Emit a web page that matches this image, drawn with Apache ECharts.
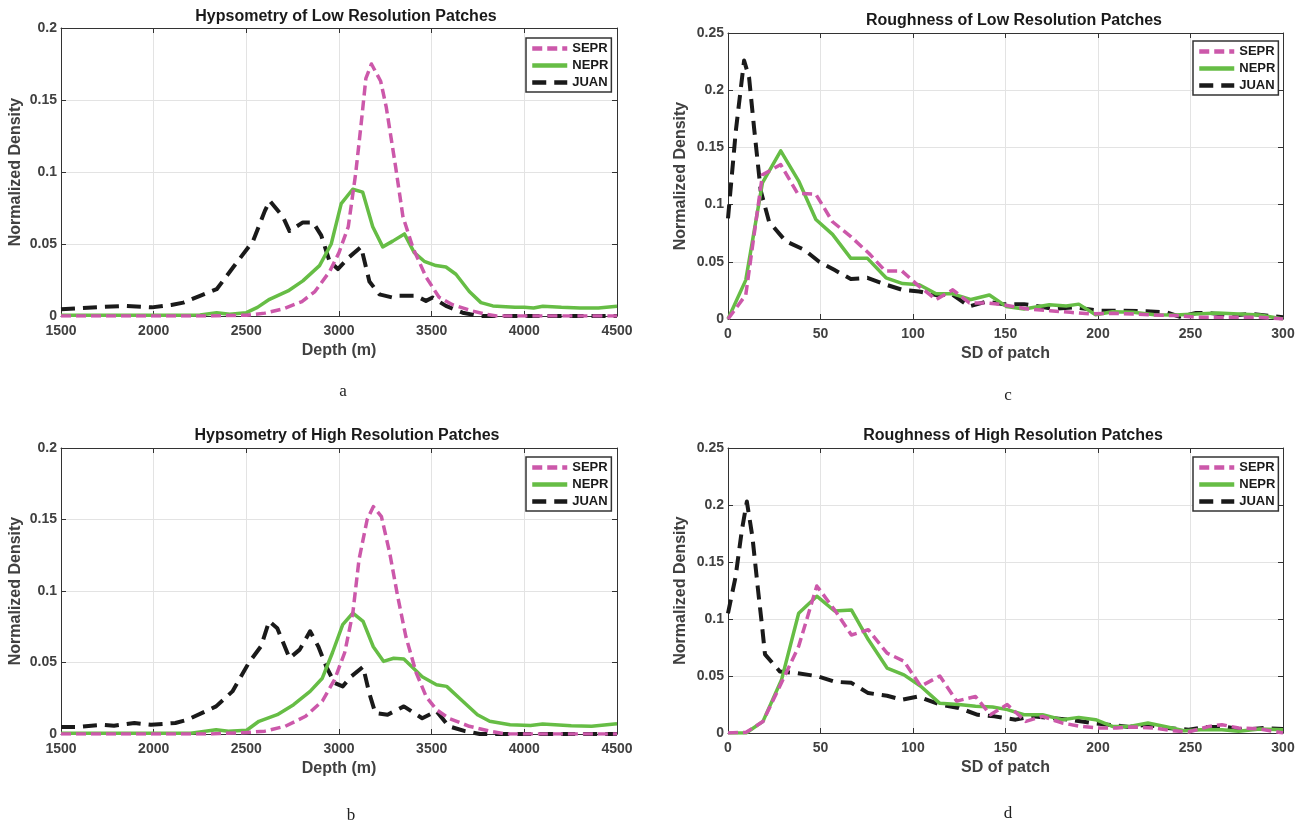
<!DOCTYPE html>
<html>
<head>
<meta charset="utf-8">
<script src="https://cdn.jsdelivr.net/npm/echarts@6/dist/echarts.min.js"></script>
<style>
  html, body { margin: 0; padding: 0; background: #fff; }
  #chart { width: 1309px; height: 828px; }
</style>
</head>
<body>
<div id="chart"></div>
<script>
// [x, density]
const hypLowSEPR = [[1500,0],[1800,0],[2100,0],[2300,0],[2400,0.0003],[2500,0.0005],[2600,0.002],[2700,0.005],[2800,0.010],[2870,0.017],[2950,0.031],[3000,0.044],[3050,0.062],[3090,0.099],[3120,0.134],[3145,0.165],[3175,0.175],[3225,0.163],[3255,0.145],[3305,0.104],[3345,0.069],[3400,0.047],[3470,0.027],[3540,0.013],[3610,0.008],[3720,0.0035],[3800,0.001],[3850,0],[4500,0]];
const hypLowNEPR = [[1500,0.0005],[1800,0.0005],[2100,0.0006],[2250,0.0007],[2340,0.0023],[2410,0.0012],[2500,0.0023],[2560,0.006],[2625,0.0116],[2725,0.0174],[2805,0.0244],[2895,0.035],[2958,0.050],[3012,0.078],[3074,0.088],[3128,0.086],[3182,0.062],[3236,0.048],[3290,0.052],[3353,0.057],[3406,0.044],[3460,0.038],[3523,0.035],[3577,0.034],[3631,0.029],[3703,0.017],[3766,0.0093],[3830,0.007],[3900,0.0065],[3950,0.006],[4000,0.006],[4050,0.0055],[4100,0.0068],[4200,0.006],[4300,0.0055],[4400,0.0055],[4500,0.0068]];
const hypLowJUAN = [[1500,0.0047],[1590,0.0054],[1720,0.0063],[1850,0.007],[1990,0.006],[2095,0.0077],[2160,0.0093],[2250,0.014],[2340,0.0186],[2430,0.034],[2536,0.052],[2600,0.073],[2626,0.080],[2697,0.069],[2733,0.059],[2805,0.065],[2860,0.065],[2904,0.056],[2949,0.038],[2994,0.0326],[3056,0.041],[3119,0.048],[3164,0.024],[3218,0.015],[3290,0.0128],[3326,0.014],[3415,0.014],[3469,0.0105],[3505,0.0128],[3577,0.007],[3667,0.0023],[3756,0],[4500,0]];

const hypHighSEPR = [[1500,0],[2300,0],[2500,0.001],[2600,0.002],[2710,0.0054],[2820,0.0124],[2910,0.023],[2976,0.038],[3031,0.057],[3075,0.085],[3108,0.122],[3152,0.150],[3185,0.159],[3229,0.152],[3273,0.127],[3317,0.096],[3361,0.068],[3416,0.043],[3471,0.026],[3526,0.017],[3592,0.011],[3703,0.0054],[3813,0.002],[3900,0],[4500,0]];
const hypHighNEPR = [[1500,0.0005],[2200,0.0006],[2337,0.003],[2403,0.002],[2502,0.0026],[2568,0.0089],[2667,0.0135],[2755,0.0205],[2844,0.0298],[2910,0.039],[2965,0.057],[3020,0.0765],[3075,0.0846],[3130,0.0788],[3185,0.061],[3240,0.0508],[3295,0.053],[3350,0.0524],[3449,0.040],[3526,0.0345],[3581,0.0333],[3659,0.024],[3747,0.0135],[3813,0.0089],[3923,0.0065],[4033,0.006],[4099,0.007],[4253,0.0058],[4363,0.0054],[4500,0.0072]];
const hypHighJUAN = [[1500,0.0049],[1588,0.0049],[1720,0.0065],[1786,0.0058],[1896,0.0077],[1985,0.0065],[2117,0.0077],[2183,0.010],[2337,0.0193],[2425,0.0298],[2513,0.0497],[2579,0.0613],[2623,0.0788],[2667,0.074],[2733,0.053],[2788,0.059],[2844,0.0718],[2888,0.0613],[2932,0.047],[2976,0.0357],[3020,0.0333],[3064,0.040],[3130,0.047],[3163,0.0287],[3196,0.0147],[3262,0.0135],[3350,0.0193],[3449,0.011],[3526,0.016],[3592,0.0054],[3680,0.002],[3760,0],[4500,0]];

const rghLowSEPR = [[0,0],[9.6,0.021],[18.6,0.126],[28.5,0.135],[37.5,0.110],[47.5,0.109],[56.5,0.085],[66.4,0.072],[76.4,0.057],[85,0.042],[94,0.042],[103,0.029],[112.5,0.017],[121.5,0.0255],[130.5,0.014],[139.5,0.014],[148.5,0.0125],[162,0.0088],[174,0.0073],[185,0.0058],[196,0.0044],[208,0.005],[219,0.0044],[230,0.0035],[242,0.003],[253,0.0015],[265,0.0015],[276,0.0015],[287,0.0015],[300,0]];
const rghLowNEPR = [[0,0],[9.6,0.034],[18.6,0.119],[28.5,0.147],[38.4,0.120],[47.5,0.087],[56.5,0.074],[66.4,0.053],[75.4,0.053],[85.4,0.036],[94.4,0.031],[103.4,0.030],[112.5,0.022],[121.5,0.022],[131.4,0.017],[141.3,0.021],[150.4,0.011],[160,0.0088],[173.7,0.0125],[182.8,0.0114],[189.6,0.013],[198.7,0.0038],[207.8,0.0064],[219,0.0058],[230.6,0.0038],[242,0.0035],[253,0.0044],[264.7,0.0053],[276,0.0044],[287.5,0.0035],[300,0]];
const rghLowJUAN = [[0,0.088],[4.2,0.164],[8.7,0.226],[11.4,0.211],[14.1,0.167],[17.7,0.112],[22.2,0.085],[31.2,0.068],[41.2,0.0605],[49.3,0.050],[57.4,0.043],[66.4,0.035],[75.4,0.036],[85.4,0.030],[94.4,0.0254],[103.4,0.024],[112.5,0.021],[121.5,0.021],[130.5,0.011],[139.5,0.0152],[148.5,0.013],[160,0.013],[176,0.0088],[187,0.0102],[201,0.0073],[212,0.0073],[226,0.0067],[237,0.0058],[244,0.002],[253,0.0053],[260,0.0053],[271.5,0.003],[283,0.0044],[300,0.0015]];

const rghHighSEPR = [[0,0],[9.8,0.0006],[18.9,0.010],[28,0.041],[38.2,0.076],[48,0.129],[57.6,0.108],[66.7,0.086],[75.8,0.0906],[86,0.070],[95.1,0.063],[104.2,0.041],[114.5,0.050],[123.6,0.028],[133.8,0.032],[141.8,0.016],[150.9,0.0249],[161,0.0102],[170,0.0146],[180.5,0.0088],[190.7,0.0058],[200,0.0044],[210,0.0044],[219,0.0053],[230.5,0.0044],[239.7,0.002],[248.8,0.0009],[260,0.0058],[267,0.0073],[276,0.0044],[287.5,0.0035],[300,0]];
const rghHighNEPR = [[0,0],[9.8,0],[18.9,0.0102],[29,0.047],[38.2,0.105],[48,0.120],[57.6,0.107],[66.7,0.108],[75.8,0.082],[86,0.057],[95.1,0.051],[104.2,0.041],[114.5,0.026],[124.7,0.025],[133.8,0.0234],[143,0.0228],[151,0.0205],[160,0.016],[170,0.016],[180.5,0.0117],[189.6,0.0137],[198.7,0.0117],[207.8,0.0058],[217,0.0058],[227,0.0088],[237.4,0.0053],[246.5,0.002],[255.6,0.0029],[267,0.0029],[276,0.0015],[287.5,0.0035],[300,0.0029]];
const rghHighJUAN = [[0,0.105],[4.1,0.137],[7.5,0.178],[10.2,0.203],[13.2,0.172],[16.2,0.126],[18.4,0.094],[20,0.069],[28,0.054],[37.1,0.0526],[48.5,0.0497],[57.6,0.045],[66.7,0.044],[75.8,0.035],[86,0.0327],[94,0.0292],[103,0.032],[114.5,0.0249],[124.7,0.022],[135,0.016],[144,0.0146],[155.5,0.0117],[164.6,0.0146],[176,0.013],[185,0.0117],[196.4,0.0088],[205.5,0.0073],[217,0.0053],[226,0.0073],[237.4,0.0044],[249,0.0029],[258,0.0053],[269,0.0053],[278,0.0029],[290,0.0044],[300,0.0035]];

const seriesNames = ['SEPR', 'NEPR', 'JUAN'];
const panelTitles = [
  'Hypsometry of Low Resolution Patches',
  'Roughness of Low Resolution Patches',
  'Hypsometry of High Resolution Patches',
  'Roughness of High Resolution Patches'
];
const panelLetters = ['a', 'c', 'b', 'd'];
const xNames = ['Depth (m)', 'SD of patch', 'Depth (m)', 'SD of patch'];

const panels = [
  { grid: { left: 61, top: 28, width: 556, height: 288 }, x: [1500, 4500, 500], yMax: 0.2, lines: [hypLowSEPR, hypLowNEPR, hypLowJUAN],
    titlePos: [346, 17], letterPos: [343, 392], legendPos: [526, 38], yGap: 37 },
  { grid: { left: 728, top: 33, width: 555, height: 286 }, x: [0, 300, 50], yMax: 0.25, lines: [rghLowSEPR, rghLowNEPR, rghLowJUAN],
    titlePos: [1014, 21], letterPos: [1008, 396], legendPos: [1193, 41], yGap: 39 },
  { grid: { left: 61, top: 448, width: 556, height: 286 }, x: [1500, 4500, 500], yMax: 0.2, lines: [hypHighSEPR, hypHighNEPR, hypHighJUAN],
    titlePos: [347, 436], letterPos: [351, 816], legendPos: [526, 457], yGap: 37 },
  { grid: { left: 728, top: 448, width: 555, height: 285 }, x: [0, 300, 50], yMax: 0.25, lines: [rghHighSEPR, rghHighNEPR, rghHighJUAN],
    titlePos: [1013, 436], letterPos: [1008, 814], legendPos: [1193, 457], yGap: 39 }
];

const colors = ['#CC58AA', '#66BD45', '#1a1a1a'];
const styles = [
  { width: 3.5, type: [10, 5] },
  { width: 3.5, type: 'solid' },
  { width: 4, type: [14, 8] }
];

const axisColor = '#333';
const labelFont = { fontFamily: 'Liberation Sans', fontWeight: 'bold', fontSize: 14, color: '#404040' };
const nameFont = { fontFamily: 'Liberation Sans', fontWeight: 'bold', fontSize: 16, color: '#404040' };

let grids = [], xAxes = [], yAxes = [], series = [], legends = [], graphics = [];

panels.forEach((p, i) => {
  grids.push(p.grid);
  const tick = { show: true, inside: true, length: 5, lineStyle: { color: axisColor } };
  const line = { show: true, onZero: false, lineStyle: { color: axisColor, width: 1 } };
  // bottom x axis with labels
  xAxes.push({
    gridIndex: i, type: 'value', min: p.x[0], max: p.x[1], interval: p.x[2],
    axisLine: line, axisTick: tick,
    splitLine: { show: true, lineStyle: { color: '#e3e3e3', width: 1 } },
    axisLabel: Object.assign({ margin: 8, formatter: v => String(v) }, labelFont),
    name: xNames[i], nameLocation: 'middle', nameGap: 27, nameTextStyle: nameFont
  });
  // top x axis for the box
  xAxes.push({
    gridIndex: i, type: 'value', position: 'top', min: p.x[0], max: p.x[1], interval: p.x[2],
    axisLine: line, axisTick: tick, axisLabel: { show: false }, splitLine: { show: false }
  });
  yAxes.push({
    gridIndex: i, type: 'value', min: 0, max: p.yMax, interval: 0.05,
    axisLine: line, axisTick: tick,
    splitLine: { show: true, lineStyle: { color: '#e3e3e3', width: 1 } },
    axisLabel: Object.assign({ margin: 4, formatter: v => String(+v.toFixed(2)) }, labelFont),
    name: 'Normalized Density', nameLocation: 'middle', nameGap: p.yGap, nameTextStyle: nameFont
  });
  yAxes.push({
    gridIndex: i, type: 'value', position: 'right', min: 0, max: p.yMax, interval: 0.05,
    axisLine: line, axisTick: tick, axisLabel: { show: false }, splitLine: { show: false }
  });

  p.lines.forEach((d, k) => {
    series.push({
      name: seriesNames[k], type: 'line', xAxisIndex: i * 2, yAxisIndex: i * 2,
      data: d, symbol: 'none', silent: true, animation: false,
      z: 3 - k,
      lineStyle: { color: colors[k], width: styles[k].width, type: styles[k].type, cap: 'butt', join: 'round' },
      itemStyle: { color: colors[k] }
    });
  });

  legends.push({
    orient: 'vertical', left: p.legendPos[0], top: p.legendPos[1],
    data: seriesNames, itemWidth: 35, itemHeight: 14, itemGap: 4,
    padding: [4, 3, 3, 4], backgroundColor: '#fff',
    borderColor: '#333', borderWidth: 1.5, borderRadius: 0,
    selectedMode: false,
    itemStyle: { opacity: 0, borderWidth: 0 },
    lineStyle: { width: 4.5 },
    textStyle: { fontFamily: 'Liberation Sans', fontWeight: 'bold', fontSize: 13, color: '#1a1a1a' }
  });

  graphics.push({
    type: 'text', x: p.titlePos[0], y: p.titlePos[1],
    style: { text: panelTitles[i], align: 'center', verticalAlign: 'middle',
      font: 'bold 16px "Liberation Sans"', fill: '#1a1a1a' }
  });
  graphics.push({
    type: 'text', x: p.letterPos[0], y: p.letterPos[1],
    style: { text: panelLetters[i], align: 'center', verticalAlign: 'middle',
      font: '17px "Liberation Serif"', fill: '#222' }
  });
});

let myecharts = echarts.init(document.querySelector('#chart'));
myecharts.setOption({
  backgroundColor: '#fff',
  animation: false,
  grid: grids,
  xAxis: xAxes,
  yAxis: yAxes,
  legend: legends,
  series: series,
  graphic: graphics
});
</script>
</body>
</html>
